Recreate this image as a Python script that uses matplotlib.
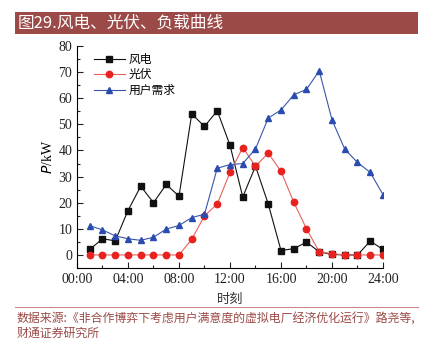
"""Wind, solar and load curves over one day (figure 29)."""

import matplotlib

matplotlib.use("Agg")
import matplotlib.pyplot as plt
from matplotlib.patches import Rectangle
from matplotlib.ticker import MultipleLocator, FixedLocator, FixedFormatter


HOURS = list(range(1, 25))
WIND = [2.1, 6.2, 5.4, 17.0, 26.3, 20.0, 27.0, 22.5, 54.0, 49.2, 55.2, 42.0,
        22.2, 34.0, 19.5, 1.7, 2.4, 4.9, 1.2, 0.2, 0.0, 0.0, 5.3, 2.1]
SOLAR = [0, 0, 0, 0, 0, 0, 0, 0, 6.0, 15.0, 19.5, 31.6,
         41.1, 34.0, 39.0, 32.0, 20.2, 10.0, 1.2, 0.5, 0, 0, 0, 0]
DEMAND = [11.2, 9.6, 7.3, 6.2, 5.6, 6.8, 9.9, 11.3, 14.3, 15.6, 33.2, 34.6,
          35.0, 40.6, 52.4, 55.5, 61.3, 63.4, 70.5, 51.7, 40.5, 35.4, 31.6, 23.1]
SERIES_NAMES = ["风电", "光伏", "用户需求"]
X_TICKS = [0, 4, 8, 12, 16, 20, 24]
X_TICK_LABELS = ["00:00", "04:00", "08:00", "12:00", "16:00", "20:00", "24:00"]

TITLE = "图29.风电、光伏、负载曲线"
SOURCE_1 = "数据来源:《非合作博弈下考虑用户满意度的虚拟电厂经济优化运行》路尧等,"
SOURCE_2 = "财通证券研究所"

SERIF = ["Liberation Serif", "Noto Sans CJK SC"]
CJK = ["Noto Sans CJK SC", "DejaVu Sans"]
BRAND = "#9b4a47"

plt.rcParams["font.family"] = SERIF

fig = plt.figure(figsize=(4.24, 3.39), dpi=100)

# title band
fig.patches.append(Rectangle((0.0354, 0.8997), 0.9505, 0.0649, transform=fig.transFigure,
                             facecolor=BRAND, edgecolor="none"))
fig.text(0.042, 0.932, TITLE, color="white", fontsize=12, va="center", ha="left", family=CJK)

ax = fig.add_axes([0.1816, 0.2094, 0.7217, 0.6549])
ax.plot(HOURS, WIND, color="#111111", lw=0.8, marker="s", ms=4.2, label=SERIES_NAMES[0])
ax.plot(HOURS, SOLAR, color="#e8605c", lw=0.8, marker="o", ms=4.6, mfc="#e8221f",
        mec="#e8221f", label=SERIES_NAMES[1])
ax.plot(HOURS, DEMAND, color="#3a56a8", lw=0.8, marker="^", ms=5, mfc="#2a4bb0",
        mec="#2a4bb0", label=SERIES_NAMES[2])

ax.set_xlim(0, 24)
ax.set_ylim(-5, 80)
ax.xaxis.set_major_locator(FixedLocator(X_TICKS))
ax.xaxis.set_major_formatter(FixedFormatter(X_TICK_LABELS))
ax.xaxis.set_minor_locator(MultipleLocator(2))
ax.yaxis.set_major_locator(MultipleLocator(10))
ax.yaxis.set_minor_locator(MultipleLocator(5))
ax.set_yticks(range(0, 81, 10))
ax.tick_params(which="both", direction="in", width=0.8, labelsize=10, colors="#222222")
ax.tick_params(which="major", length=4)
ax.tick_params(which="minor", length=2.5)
for side in ("top", "right"):
    ax.spines[side].set_visible(False)
for side in ("left", "bottom"):
    ax.spines[side].set_linewidth(0.8)

ax.set_ylabel("$P$/kW", fontsize=10, labelpad=2, family=SERIF)
ax.set_xlabel("时刻", fontsize=9.5, labelpad=5, family=CJK, color="#333333")

ax.legend(loc="upper left", bbox_to_anchor=(0.04, 0.99), frameon=False,
          prop={"family": CJK, "size": 8.5}, handlelength=2.6, handletextpad=0.3,
          labelspacing=0.2, borderaxespad=0)

# footer rule and source
fig.add_artist(plt.Line2D([0.0354, 0.986], [0.0944, 0.0944], transform=fig.transFigure,
                          color="#c98a88", lw=0.8))
fig.text(0.04, 0.059, SOURCE_1, color=BRAND, fontsize=8.6, va="center", ha="left", family=CJK)
fig.text(0.04, 0.018, SOURCE_2, color=BRAND, fontsize=8.6, va="center", ha="left", family=CJK)

fig.savefig("out.png", dpi=100)
